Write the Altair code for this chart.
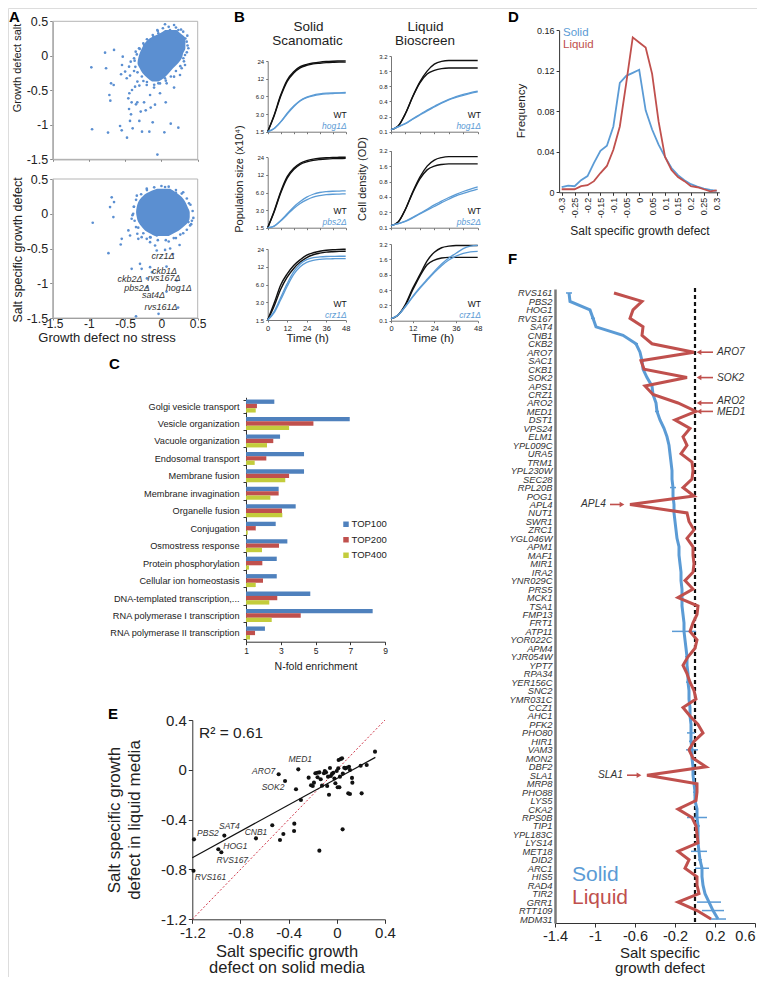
import altair as alt
import pandas as pd

FONT = "Liberation Sans"
W, H = 749, 969


def G(v):
    # page coordinate -> chart group coordinate (page has an 8px margin)
    return v - 8


A_BLUE = "#5b8fd1"
BLUE = "#5b9bd5"
RED = "#c0504d"
DARK = "#222222"

# ---------------- Panel A data ----------------
# dense core of the cloud: horizontal extents of the solid blob, row by row
A1_BLOB_Y = [0.374, 0.326, 0.254, 0.181, 0.109, 0.036, -0.036, -0.109, -0.181, -0.254, -0.326, -0.374]
A1_BLOB_XMIN = [0.05, -0.02, -0.16, -0.23, -0.27, -0.30, -0.32, -0.33, -0.30, -0.26, -0.19, -0.13]
A1_BLOB_XMAX = [0.21, 0.26, 0.33, 0.33, 0.33, 0.30, 0.28, 0.23, 0.16, 0.10, 0.03, -0.04]
A1_PTS = [(-0.967, -0.167), (-0.778, 0.046), (-0.654, 0.085), (-0.764, -0.181), (-0.534, -0.012),
          (-0.544, -0.133), (-0.557, -0.268), (-0.695, -0.399), (-0.659, -0.423), (-0.718, -0.568),
          (-0.705, -0.650), (-0.957, -1.065), (-0.737, -1.113), (-0.571, -1.017), (-0.548, -1.080),
          (-0.475, -1.186), (-0.397, -1.051), (-0.434, -0.944), (-0.305, -0.944), (-0.268, -1.099),
          (-0.167, -1.099), (-0.121, -0.964), (-0.056, -1.432), (0.040, -1.109), (0.128, -0.983),
          (0.233, -1.041), (-0.443, -0.543), (-0.457, -0.616), (-0.411, -0.674), (-0.333, -0.674),
          (-0.351, -0.703), (-0.420, -0.848), (-0.447, -0.771), (-0.286, -0.809), (-0.217, -0.790),
          (-0.148, -0.751), (-0.089, -0.708), (-0.240, -0.674), (-0.157, -0.568), (0.059, -0.674),
          (-0.020, -0.543), (0.174, -0.461), (-0.406, -0.495), (-0.364, -0.447), (-0.305, -0.432),
          (-0.203, -0.423), (-0.102, -0.461), (-0.479, -0.326), (-0.433, -0.287), (-0.378, -0.220),
          (-0.332, -0.374), (-0.249, -0.365), (-0.043, -0.399), (0.072, -0.399), (0.049, -0.326),
          (0.174, -0.302), (0.256, -0.278), (0.279, -0.181), (0.325, -0.133), (0.348, 0.205),
          (0.357, 0.292), (0.233, 0.374), (0.174, 0.447), (0.049, 0.457), (-0.057, 0.374),
          (-0.043, 0.326), (-0.171, 0.205), (-0.240, 0.157), (-0.309, 0.109), (-0.355, 0.060),
          (-0.378, -0.036), (-0.424, -0.085), (-0.447, -0.157), (-0.501, -0.229), (0.371, 0.109),
          (0.325, 0.012), (0.302, -0.036), (0.210, 0.254), (0.118, 0.374), (-0.111, 0.278),
          (0.30, 0.35), (0.33, 0.25), (0.36, 0.15), (0.35, 0.05), (0.31, -0.08), (0.26, -0.15),
          (0.20, -0.22), (0.13, -0.30), (0.06, -0.36), (-0.02, -0.40), (-0.10, -0.42), (-0.20, -0.38),
          (-0.27, -0.30), (-0.33, -0.24), (-0.36, -0.16), (-0.37, -0.07), (-0.34, 0.02), (-0.30, 0.10),
          (-0.25, 0.18), (-0.20, 0.24), (-0.12, 0.30), (-0.05, 0.36), (0.02, 0.40), (0.10, 0.42),
          (0.20, 0.41), (0.27, 0.38)]

A2_BLOB_Y = [0.36, 0.30, 0.24, 0.17, 0.10, 0.02, -0.05, -0.12, -0.19, -0.26, -0.32]
A2_BLOB_XMIN = [-0.06, -0.20, -0.27, -0.32, -0.34, -0.35, -0.34, -0.32, -0.27, -0.20, -0.09]
A2_BLOB_XMAX = [0.12, 0.21, 0.28, 0.33, 0.36, 0.39, 0.39, 0.37, 0.30, 0.21, 0.10]
A2_PTS = [(-0.948, -0.13), (-0.686, 0.236), (-0.654, 0.168), (-0.709, 0.096), (-0.663, -0.048),
          (-0.731, -0.567), (-0.562, -0.442), (-0.548, -0.361), (-0.456, -0.240), (-0.433, -0.313),
          (-0.411, -0.072), (-0.351, -0.192), (-0.333, -0.288), (-0.319, -0.361), (-0.273, -0.337),
          (-0.203, -0.361), (-0.157, -0.337), (-0.065, -0.313), (-0.157, -0.409), (-0.088, -0.457),
          (-0.065, -0.529), (-0.411, -0.793), (-0.296, -0.721), (-0.273, -0.793), (-0.157, -0.769),
          (-0.351, -1.476), (-0.04, -1.44), (0.395, -0.168), (0.372, -0.12), (0.05, 0.385),
          (-0.203, 0.361), (-0.34, 0.26), (0.3, 0.31), (0.2, 0.3), (0.38, 0.15), (0.42, -0.1),
          (0.3, -0.28), (0.2, -0.35), (0.1, -0.4), (-0.38, 0.1), (-0.4, -0.02), (0.12, -0.5),
          (0.25, -0.45), (0.16, -0.58),
          (0.0, 0.40), (0.10, 0.39), (0.20, 0.34), (0.28, 0.29), (0.35, 0.22), (0.40, 0.13),
          (0.43, 0.04), (0.44, -0.06), (0.41, -0.15), (0.35, -0.23), (0.26, -0.30), (0.17, -0.35),
          (0.06, -0.38), (-0.05, -0.38), (-0.15, -0.34), (-0.25, -0.28), (-0.32, -0.20),
          (-0.37, -0.10), (-0.39, 0.0), (-0.38, 0.10), (-0.35, 0.20), (-0.28, 0.28), (-0.20, 0.34),
          (-0.10, 0.38)]
A2_NAMED = ["crz1Δ", "ckb1Δ", "ckb2Δ", "rvs167Δ", "hog1Δ", "pbs2Δ", "sat4Δ", "rvs161Δ"]
A2_NAMED_PTS = [(0.05, -0.52), (0.07, -0.76), (-0.2, -0.93), (-0.13, -0.84), (0.21, -0.96),
                (-0.2, -1.06), (0.07, -1.12), (0.23, -1.35)]
A2_LABEL_OFFSETS = {"crz1Δ": (-2, 6), "ckb1Δ": (-2, 4), "ckb2Δ": (-17, 1), "rvs167Δ": (12, 6),
                    "hog1Δ": (2, 8), "pbs2Δ": (-10, 1), "sat4Δ": (-13, 3), "rvs161Δ": (-17, -1)}

# ---------------- Panel B data ----------------
T = [0, 4, 8, 12, 16, 20, 24, 28, 32, 36, 40, 44, 48]
HOG1_SOLID_WT = [[1.5, 2.9, 6.3, 11.4, 15.8, 19.2, 21.0, 22.2, 23.0, 23.5, 23.8, 24.0, 24.1],
                 [1.5, 2.8, 6.0, 10.8, 15.0, 18.4, 20.2, 21.4, 22.0, 22.5, 22.8, 23.0, 23.0]]
HOG1_SOLID_MUT = [[1.5, 1.7, 2.2, 3.1, 4.1, 5.1, 5.8, 6.3, 6.6, 6.8, 6.9, 6.9, 7.0],
                  [1.5, 1.7, 2.2, 3.0, 4.0, 5.0, 5.7, 6.1, 6.4, 6.6, 6.7, 6.8, 6.8]]
HOG1_LIQ_WT = [[0.11, 0.13, 0.23, 0.50, 0.98, 1.6, 2.2, 2.5, 2.6, 2.6, 2.6, 2.6, 2.6],
               [0.11, 0.13, 0.23, 0.49, 0.93, 1.4, 1.65, 1.8, 1.85, 1.85, 1.85, 1.85, 1.85]]
HOG1_LIQ_MUT = [[0.11, 0.126, 0.146, 0.18, 0.22, 0.27, 0.32, 0.38, 0.44, 0.50, 0.55, 0.60, 0.64],
                [0.11, 0.125, 0.144, 0.177, 0.215, 0.26, 0.31, 0.37, 0.43, 0.48, 0.53, 0.58, 0.62]]
PBS2_SOLID_WT = [[1.5, 2.9, 6.2, 11.2, 15.6, 19.0, 21.0, 22.3, 23.1, 23.6, 23.9, 24.0, 24.1],
                 [1.5, 2.8, 5.9, 10.6, 14.8, 18.2, 20.1, 21.3, 22.0, 22.5, 22.8, 22.9, 23.0]]
PBS2_SOLID_MUT = [[1.5, 1.6, 2.0, 2.6, 3.4, 4.2, 5.0, 5.6, 6.0, 6.2, 6.3, 6.35, 6.4],
                  [1.5, 1.6, 1.95, 2.5, 3.2, 3.9, 4.5, 5.0, 5.3, 5.5, 5.6, 5.65, 5.7]]
PBS2_LIQ_WT = [[0.11, 0.13, 0.23, 0.50, 0.98, 1.6, 2.1, 2.35, 2.45, 2.45, 2.45, 2.45, 2.45],
               [0.11, 0.13, 0.23, 0.48, 0.90, 1.35, 1.6, 1.72, 1.77, 1.77, 1.77, 1.77, 1.77]]
PBS2_LIQ_MUT = [[0.11, 0.12, 0.135, 0.16, 0.19, 0.23, 0.28, 0.33, 0.39, 0.45, 0.51, 0.57, 0.63],
                [0.11, 0.12, 0.133, 0.155, 0.185, 0.22, 0.26, 0.31, 0.36, 0.42, 0.47, 0.52, 0.57]]
CRZ1_SOLID_WT = [[1.5, 2.9, 5.9, 9.1, 12.6, 15.8, 18.9, 20.7, 22.0, 22.8, 23.3, 23.6, 23.8],
                 [1.5, 2.6, 5.0, 8.0, 11.2, 14.4, 17.2, 19.2, 20.4, 21.2, 21.6, 21.9, 22.0]]
CRZ1_SOLID_MUT = [[1.5, 2.1, 3.6, 6.2, 9.9, 13.4, 15.8, 17.1, 17.6, 17.9, 18.0, 18.1, 18.1],
                  [1.5, 2.0, 3.3, 5.6, 8.9, 12.0, 14.2, 15.4, 16.0, 16.3, 16.4, 16.5, 16.5]]
CRZ1_LIQ_WT = [[0.11, 0.13, 0.21, 0.43, 0.8, 1.5, 2.2, 2.7, 2.9, 3.0, 3.0, 3.0, 3.0],
               [0.11, 0.13, 0.2, 0.4, 0.75, 1.25, 1.55, 1.7, 1.75, 1.75, 1.75, 1.75, 1.75]]
CRZ1_LIQ_MUT = [[0.11, 0.13, 0.19, 0.3, 0.45, 0.65, 0.93, 1.3, 1.7, 2.1, 2.6, 2.9, 3.0],
                [0.11, 0.13, 0.19, 0.29, 0.43, 0.62, 0.88, 1.2, 1.55, 1.85, 2.1, 2.25, 2.3]]
B_MUTANTS = ["hog1Δ", "pbs2Δ", "crz1Δ"]

# ---------------- Panel C data ----------------
C_CATS = ["Golgi vesicle transport", "Vesicle organization", "Vacuole organization",
          "Endosomal transport", "Membrane fusion", "Membrane invagination", "Organelle fusion",
          "Conjugation", "Osmostress response", "Protein phosphorylation",
          "Cellular ion homeostasis", "DNA-templated transcription,...",
          "RNA polymerase I transcription", "RNA polymerase II transcription"]
C_SERIES = ["TOP100", "TOP200", "TOP400"]
C_TOP100 = [2.63, 6.97, 2.96, 4.34, 4.34, 2.88, 3.86, 2.71, 3.38, 2.77, 2.77, 4.70, 8.29, 2.09]
C_TOP200 = [1.63, 4.88, 2.57, 2.17, 3.48, 2.88, 3.07, 1.56, 2.90, 1.94, 1.98, 2.80, 4.15, 1.52]
C_TOP400 = [1.56, 3.48, 2.21, 1.50, 3.26, 2.40, 3.09, 1.10, 1.92, 1.17, 1.56, 2.34, 2.48, 1.23]
C_COLORS = ["#4f81bd", "#c0504d", "#c3cc3c"]

# ---------------- Panel D data ----------------
D_BINS = [-0.3, -0.275, -0.25, -0.225, -0.2, -0.175, -0.15, -0.125, -0.1, -0.075, -0.05, -0.025, 0.0,
          0.025, 0.05, 0.075, 0.1, 0.125, 0.15, 0.175, 0.2, 0.225, 0.25, 0.275, 0.3]
D_SOLID = [0.005, 0.0066, 0.006, 0.012, 0.016, 0.029, 0.041, 0.046, 0.065, 0.108, 0.115, 0.118, 0.121,
           0.081, 0.062, 0.047, 0.035, 0.024, 0.017, 0.012, 0.008, 0.0056, 0.0036, 0.0023, 0.0013]
D_LIQUID = [0.003, 0.003, 0.003, 0.006, 0.007, 0.011, 0.019, 0.026, 0.042, 0.065, 0.108, 0.153, 0.148,
            0.143, 0.117, 0.07, 0.035, 0.022, 0.015, 0.011, 0.006, 0.005, 0.003, 0.001, 0.002]

# ---------------- Panel E data ----------------
E_NAMED = ["RVS161", "PBS2", "SAT4", "HOG1", "RVS167", "CNB1", "MED1", "ARO7", "SOK2"]
E_NAMED_PTS = [(-1.19, -0.81), (-1.186, -0.558), (-0.934, -0.528), (-0.984, -0.638), (-0.959, -0.662),
               (-0.671, -0.55), (-0.32, 0.004), (-0.483, -0.036), (-0.43, -0.09)]
E_LABEL_OFFSETS = {"RVS161": (17, 6), "PBS2": (14, -6), "SAT4": (5, -10), "HOG1": (17, -3),
                   "RVS167": (11, 8), "CNB1": (0, -6), "MED1": (2, -10), "ARO7": (-15, -3),
                   "SOK2": (-12, 6)}
E_PTS = [(-0.536, -0.445), (-0.472, -0.563), (-0.444, -0.515), (-0.353, -0.432), (-0.355, -0.491),
         (-0.145, -0.649), (0.048, -0.478), (-0.298, -0.242), (-0.339, -0.156), (-0.234, -0.063),
         (-0.214, -0.124), (-0.19, -0.103), (-0.178, -0.028), (-0.162, -0.023), (-0.145, -0.02),
         (-0.134, -0.076), (-0.123, -0.127), (-0.107, -0.028), (-0.09, -0.02), (-0.073, -0.055),
         (-0.065, -0.2), (-0.057, 0.015), (-0.04, -0.033), (-0.029, -0.023), (-0.012, -0.108),
         (-0.001, -0.009), (0.012, 0.012), (0.015, 0.079), (0.032, 0.087), (0.043, 0.092),
         (0.007, -0.14), (0.021, -0.14), (0.026, -0.055), (0.062, 0.017), (0.071, 0.012),
         (0.082, 0.017), (0.101, 0.025), (0.095, -0.189), (0.109, -0.194), (0.109, -0.001),
         (0.126, -0.065), (0.129, -0.103), (0.206, -0.189), (0.198, 0.033), (0.248, 0.039),
         (0.317, 0.146), (-0.16, -0.06), (-0.05, -0.05), (-0.02, -0.07), (0.05, -0.03),
         (-0.1, -0.01), (-0.2, -0.13), (-0.08, -0.13)]
E_DIAG = [-1.2, 0.4]

# ---------------- Panel F data ----------------
F_GENES = ["RVS161", "PBS2", "HOG1", "RVS167", "SAT4", "CNB1", "CKB2", "ARO7", "SAC1", "CKB1", "SOK2",
           "APS1", "CRZ1", "ARO2", "MED1", "DST1", "VPS24", "ELM1", "YPL009C", "URA5", "TRM1",
           "YPL230W", "SEC28", "RPL20B", "POG1", "APL4", "NUT1", "SWR1", "ZRC1", "YGL046W", "APM1",
           "MAF1", "MIR1", "IRA2", "YNR029C", "PRS5", "MCK1", "TSA1", "FMP13", "FRT1", "ATP11",
           "YOR022C", "APM4", "YJR054W", "YPT7", "RPA34", "YER156C", "SNC2", "YMR031C", "CCZ1",
           "AHC1", "PFK2", "PHO80", "HIR1", "VAM3", "MON2", "DBF2", "SLA1", "MRP8", "PHO88", "LYS5",
           "CKA2", "RPS0B", "TIP1", "YPL183C", "LYS14", "MET18", "DID2", "ARC1", "HIS5", "RAD4",
           "TIR2", "GRR1", "RTT109", "MDM31"]
F_SOLID = [-1.26, -1.25, -1.05, -1.02, -0.99, -0.72, -0.59, -0.55, -0.53, -0.52, -0.48, -0.43, -0.42,
           -0.39, -0.38, -0.35, -0.31, -0.28, -0.26, -0.25, -0.24, -0.23, -0.23, -0.22, -0.22, -0.21,
           -0.21, -0.20, -0.19, -0.18, -0.16, -0.16, -0.15, -0.14, -0.14, -0.13, -0.13, -0.13, -0.12,
           -0.11, -0.11, -0.10, -0.09, -0.08, -0.08, -0.07, -0.07, -0.06, -0.06, -0.05, -0.05, -0.04,
           -0.04, -0.04, -0.03, -0.03, -0.02, -0.02, -0.01, 0.00, 0.00, 0.02, 0.02, 0.03, 0.03, 0.03,
           0.04, 0.05, 0.07, 0.07, 0.08, 0.10, 0.14, 0.18, 0.23]
F_LIQUID = [-0.81, -0.53, -0.62, -0.65, -0.52, -0.53, -0.43, -0.01, -0.54, -0.51, -0.08, -0.50, -0.42,
            -0.17, 0.01, -0.20, -0.05, -0.12, -0.08, -0.14, -0.03, -0.02, -0.03, -0.12, -0.01, -0.65,
            -0.08, -0.06, -0.01, -0.08, -0.02, -0.02, -0.01, -0.02, -0.10, -0.02, -0.17, 0.03, 0.02,
            -0.02, -0.05, 0.02, 0.00, -0.07, -0.12, -0.08, -0.05, -0.01, 0.01, -0.12, -0.05, 0.03,
            0.08, -0.01, -0.06, -0.02, 0.11, -0.48, 0.02, 0.02, 0.01, -0.17, -0.03, 0.01, 0.02, 0.03,
            -0.17, -0.06, -0.10, 0.02, 0.02, 0.04, -0.17, 0.02, 0.16]
F_ERR = [0.03, 0.01, 0.01, 0.02, 0.01, 0.01, 0.02, 0.01, 0.01, 0.01, 0.01, 0.01, 0.01, 0.01, 0.02,
         0.01, 0.01, 0.01, 0.01, 0.01, 0.01, 0.01, 0.01, 0.03, 0.01, 0.01, 0.01, 0.01, 0.01, 0.01,
         0.01, 0.01, 0.01, 0.01, 0.01, 0.01, 0.01, 0.01, 0.01, 0.01, 0.12, 0.01, 0.01, 0.02, 0.01,
         0.01, 0.02, 0.01, 0.01, 0.01, 0.01, 0.01, 0.04, 0.02, 0.06, 0.01, 0.01, 0.01, 0.01, 0.02,
         0.01, 0.01, 0.10, 0.02, 0.01, 0.01, 0.08, 0.02, 0.07, 0.01, 0.01, 0.01, 0.12, 0.11, 0.08]
F_ARROW_RIGHT = ["ARO7", "SOK2", "ARO2", "MED1"]
F_ARROW_LEFT = ["APL4", "SLA1"]
F_ARROW_TEXT_DY = {"ARO7": 0, "SOK2": 0, "ARO2": -2, "MED1": 1}


# ---------------- helpers ----------------
def lin(domain, r0, r1, kind="linear"):
    if kind == "log":
        return alt.Scale(type="log", domain=domain, range=[G(r0), G(r1)], nice=False)
    return alt.Scale(type=kind, domain=domain, range=[G(r0), G(r1)], zero=False, nice=False)


NUM = "'' + datum.value"


def xaxis(y_page, values, labels=True, size=12, tick=3, color="#555", expr=NUM, angle=0,
          lcolor=DARK, pad=2, align=None):
    kw = {}
    if align is not None:
        kw["labelAlign"] = align
    return alt.Axis(orient="bottom", offset=G(y_page) - H, values=values, labels=labels,
                    labelExpr=expr, labelFontSize=size, labelFont=FONT, labelColor=lcolor,
                    labelAngle=angle, labelFlush=False, labelOverlap=False, labelPadding=pad,
                    grid=False, title=None, ticks=tick > 0, tickSize=tick, tickColor=color,
                    domainColor=color, domainWidth=1, **kw)


def yaxis(x_page, values, labels=True, size=12, tick=3, color="#555", expr=NUM, lcolor=DARK):
    return alt.Axis(orient="left", offset=-G(x_page), values=values, labels=labels,
                    labelExpr=expr, labelFontSize=size, labelFont=FONT, labelColor=lcolor,
                    labelFlush=False, labelOverlap=False, labelPadding=2,
                    grid=False, title=None, ticks=tick > 0, tickSize=tick, tickColor=color,
                    domainColor=color, domainWidth=1)


def text(s, x, y, size, color=DARK, align="center", baseline="middle", angle=0,
         italic=False, bold=False):
    return alt.Chart(alt.Data(values=[{}])).mark_text(
        text=s, align=align, baseline=baseline, angle=angle, fontSize=size, font=FONT,
        color=color, fontStyle="italic" if italic else "normal",
        fontWeight="bold" if bold else "normal").encode(x=alt.value(G(x)), y=alt.value(G(y)))


def pts_df(pairs, names=None):
    df = pd.DataFrame(pairs, columns=["x", "y"])
    if names is not None:
        df["name"] = names
    return df


L = []

# ---------------- Panel A ----------------
AX0, AX1 = 52.7, 197.7


def scatter_a(blob_y, blob_x0, blob_x1, pts, ytop, ybot, xlabels):
    xs = lin([-1.5, 0.5], AX0, AX1)
    ys = lin([-1.5, 0.5], ybot, ytop)
    frame = alt.Chart(alt.Data(values=[{}])).mark_rect(
        fillOpacity=0, stroke="#b5b5b5", strokeWidth=1).encode(
        x=alt.value(G(AX0)), x2=alt.value(G(AX1)), y=alt.value(G(ytop)), y2=alt.value(G(ybot)))
    blob = pd.DataFrame({"y": blob_y, "x0": blob_x0, "x1": blob_x1})
    blob_l = alt.Chart(blob).mark_area(orient="horizontal", color=A_BLUE, opacity=1,
                                       interpolate="monotone").encode(
        y=alt.Y("y:Q", scale=ys, axis=yaxis(AX0, [0.5, 0, -0.5, -1, -1.5], size=12.5,
                                            color="#8a8a8a")),
        x=alt.X("x0:Q", scale=xs, axis=xaxis(ybot, [-1.5, -1, -0.5, 0, 0.5], labels=xlabels,
                                             size=12, tick=2, pad=-2, color="#8a8a8a")),
        x2="x1:Q")
    pts_l = alt.Chart(pts_df(pts)).mark_circle(size=7, color=A_BLUE, opacity=1).encode(
        x=alt.X("x:Q", scale=xs, axis=None), y=alt.Y("y:Q", scale=ys, axis=None))
    return [frame, blob_l, pts_l], xs, ys


la, _, _ = scatter_a(A1_BLOB_Y, A1_BLOB_XMIN, A1_BLOB_XMAX, A1_PTS, 21.3, 159.3, False)
L += la
la, xs_a2, ys_a2 = scatter_a(A2_BLOB_Y, A2_BLOB_XMIN, A2_BLOB_XMAX, A2_PTS, 179, 318, True)
L += la
named_a2 = pts_df(A2_NAMED_PTS, A2_NAMED)
L.append(alt.Chart(named_a2).mark_circle(size=7, color=A_BLUE, opacity=1).encode(
    x=alt.X("x:Q", scale=xs_a2, axis=None), y=alt.Y("y:Q", scale=ys_a2, axis=None)))
for nm in A2_NAMED:
    dx, dy = A2_LABEL_OFFSETS[nm]
    L.append(alt.Chart(named_a2).transform_filter(alt.datum.name == nm).mark_text(
        fontSize=9, fontStyle="italic", font=FONT, color="#333", dx=dx, dy=dy).encode(
        x=alt.X("x:Q", scale=xs_a2, axis=None), y=alt.Y("y:Q", scale=ys_a2, axis=None),
        text="name:N"))
L.append(text("Growth defect salt", 17.5, 68, 11, angle=270))
L.append(text("Salt specific growth defect", 17.5, 250, 12.5, angle=270))
L.append(text("Growth defect no stress", 107, 338, 13))

# ---------------- Panel B ----------------
SOLID_ROWS = [(61, 131.7), (157.3, 227.7), (249, 320)]
LIQ_ROWS = [(56, 131.7), (150.7, 227.7), (244, 320.7)]


def curves_df(curves):
    rows = []
    for i, c in enumerate(curves):
        for t, v in zip(T, c):
            rows.append({"t": t, "v": v, "rep": i})
    return pd.DataFrame(rows)


def growth(wt, mut, col, row):
    if col == 0:
        x0, x1 = 267.7, 345.7
        dom, yv = [1.5, 24], [1.5, 3, 6, 12, 24]
        expr = "datum.value < 10 ? format(datum.value, '.1f') : '' + datum.value"
        ytop, ybot = SOLID_ROWS[row]
        lab_x = 346.7
    else:
        x0, x1 = 391, 477.7
        dom, yv = [0.1, 3.2], [0.1, 0.2, 0.4, 0.8, 1.6, 3.2]
        expr = NUM
        ytop, ybot = LIQ_ROWS[row]
        lab_x = 481
    xs = lin([0, 48], x0, x1)
    ys = lin(dom, ybot, ytop, kind="log")
    if row == 2:
        xa = xaxis(ybot, [0, 12, 24, 36, 48], size=7.5, tick=2, color="#777")
    else:
        xa = xaxis(ybot, [0, 8, 16, 24, 32, 40, 48], labels=False, tick=2, color="#777")
    ya = yaxis(x0, yv, size=6, tick=2, color="#777", expr=expr)
    out = [
        alt.Chart(curves_df(wt)).mark_line(color="#111", strokeWidth=1.4, interpolate="monotone").encode(
            x=alt.X("t:Q", scale=xs, axis=xa), y=alt.Y("v:Q", scale=ys, axis=ya), detail="rep:N"),
        alt.Chart(curves_df(mut)).mark_line(color=BLUE, strokeWidth=1.3, interpolate="monotone").encode(
            x=alt.X("t:Q", scale=xs, axis=None), y=alt.Y("v:Q", scale=ys, axis=None), detail="rep:N"),
        text("WT", lab_x, ybot - 16.5, 8.5, color="#111", align="right"),
        text(B_MUTANTS[row], lab_x, ybot - 5.5, 8.5, color=BLUE, align="right", italic=True),
    ]
    return out


L += growth(HOG1_SOLID_WT, HOG1_SOLID_MUT, 0, 0)
L += growth(HOG1_LIQ_WT, HOG1_LIQ_MUT, 1, 0)
L += growth(PBS2_SOLID_WT, PBS2_SOLID_MUT, 0, 1)
L += growth(PBS2_LIQ_WT, PBS2_LIQ_MUT, 1, 1)
L += growth(CRZ1_SOLID_WT, CRZ1_SOLID_MUT, 0, 2)
L += growth(CRZ1_LIQ_WT, CRZ1_LIQ_MUT, 1, 2)
L.append(text("Solid", 308.5, 27, 13.5))
L.append(text("Scanomatic", 307.5, 41, 13.5))
L.append(text("Liquid", 425.5, 27, 13.5))
L.append(text("Bioscreen", 425, 41, 13.5))
L.append(text("Population size (x10⁴)", 240, 179, 11, angle=270))
L.append(text("Cell density (OD)", 363, 179, 11, angle=270))
L.append(text("Time (h)", 307.7, 339, 11.5))
L.append(text("Time (h)", 433, 339, 11.5))

# ---------------- Panel C ----------------
c_rows = []
for i, cat in enumerate(C_CATS):
    for s, vals in zip(C_SERIES, [C_TOP100, C_TOP200, C_TOP400]):
        c_rows.append({"cat": cat, "series": s, "value": vals[i]})
c_df = pd.DataFrame(c_rows)
xs_c = lin([1, 9], 246, 385)
ys_c = alt.Scale(type="band", domain=C_CATS, range=[G(397.3), G(641.7)], paddingInner=0.255,
                 paddingOuter=0.1275)
c_yaxis = alt.Axis(orient="left", offset=-G(246), labelFontSize=9.2, labelFont=FONT, labelColor=DARK,
                   labelPadding=4, labelLimit=300, grid=False, title=None, tickBand="extent",
                   tickSize=3, tickColor="#333", domainColor="#333", labelOverlap=False)
L.append(alt.Chart(c_df).mark_bar().encode(
    y=alt.Y("cat:N", sort=C_CATS, scale=ys_c, axis=c_yaxis),
    yOffset=alt.YOffset("series:N", sort=C_SERIES, scale=alt.Scale(domain=C_SERIES)),
    x=alt.X("value:Q", scale=xs_c, axis=xaxis(641.7, [1, 3, 5, 7, 9], size=8.5, tick=3, color="#333")),
    x2=alt.datum(1),
    color=alt.Color("series:N", scale=alt.Scale(domain=C_SERIES, range=C_COLORS), legend=None)))
leg_c = pd.DataFrame({"series": C_SERIES})
ys_leg = alt.Scale(type="point", domain=C_SERIES, range=[G(516.5), G(563)], padding=0.5)
L.append(alt.Chart(leg_c).mark_square(size=30, opacity=1).encode(
    x=alt.value(G(346)), y=alt.Y("series:N", sort=C_SERIES, scale=ys_leg, axis=None),
    color=alt.Color("series:N", scale=alt.Scale(domain=C_SERIES, range=C_COLORS), legend=None)))
L.append(alt.Chart(leg_c).mark_text(align="left", baseline="middle", fontSize=9.5, font=FONT,
                                    color=DARK).encode(
    x=alt.value(G(351.5)), y=alt.Y("series:N", sort=C_SERIES, scale=ys_leg, axis=None),
    text="series:N"))
L.append(text("N-fold enrichment", 316, 667, 10.5))

# ---------------- Panel D ----------------
d_df = pd.DataFrame({"bin": D_BINS, "solid": D_SOLID, "liquid": D_LIQUID})
xs_d = lin([-0.31, 0.31], 559.1, 719.3)
ys_d = lin([0, 0.16], 192.3, 30.3)
d_ticks = [-0.3, -0.25, -0.2, -0.15, -0.1, -0.05, 0, 0.05, 0.1, 0.15, 0.2, 0.25, 0.3]
L.append(alt.Chart(d_df).mark_line(color=BLUE, strokeWidth=1.8).encode(
    x=alt.X("bin:Q", scale=xs_d, axis=xaxis(192.3, d_ticks, size=9, tick=3, color="#333", angle=-90)),
    y=alt.Y("solid:Q", scale=ys_d, axis=yaxis(559.1, [0, 0.04, 0.08, 0.12, 0.16], size=9, tick=3,
                                              color="#333"))))
L.append(alt.Chart(d_df).mark_line(color=RED, strokeWidth=1.8).encode(
    x=alt.X("bin:Q", scale=xs_d, axis=None), y=alt.Y("liquid:Q", scale=ys_d, axis=None)))
L.append(text("Frequency", 522, 111, 11.5, angle=270))
L.append(text("Salt specific growth defect", 640, 231, 12))
L.append(text("Solid", 563, 33, 11.5, color=BLUE, align="left"))
L.append(text("Liquid", 563, 45, 11.5, color=RED, align="left"))

# ---------------- Panel E ----------------
e_all = pts_df(E_PTS + E_NAMED_PTS)
e_named = pts_df(E_NAMED_PTS, E_NAMED)
xs_e = lin([-1.2, 0.4], 192.3, 385)
ys_e = lin([-1.2, 0.4], 919.3, 720)
e_ticks = [-1.2, -0.8, -0.4, 0, 0.4]
L.append(alt.Chart(pd.DataFrame({"x": E_DIAG, "y": E_DIAG})).mark_line(
    color="#d0374a", strokeWidth=1, strokeDash=[2, 2]).encode(
    x=alt.X("x:Q", scale=xs_e, axis=xaxis(919.3, e_ticks, size=15, tick=4, color="#333")),
    y=alt.Y("y:Q", scale=ys_e, axis=yaxis(192.3, e_ticks, size=15, tick=4, color="#333"))))
L.append(alt.Chart(e_all).transform_regression("x", "y", extent=[-1.2, 0.32]).mark_line(
    color="#111", strokeWidth=1.2).encode(
    x=alt.X("x:Q", scale=xs_e, axis=None), y=alt.Y("y:Q", scale=ys_e, axis=None)))
L.append(alt.Chart(e_all).mark_circle(size=17, color="#111", opacity=1).encode(
    x=alt.X("x:Q", scale=xs_e, axis=None), y=alt.Y("y:Q", scale=ys_e, axis=None)))
for nm in E_NAMED:
    dx, dy = E_LABEL_OFFSETS[nm]
    L.append(alt.Chart(e_named).transform_filter(alt.datum.name == nm).mark_text(
        fontSize=8.5, fontStyle="italic", font=FONT, color="#333", dx=dx, dy=dy).encode(
        x=alt.X("x:Q", scale=xs_e, axis=None), y=alt.Y("y:Q", scale=ys_e, axis=None),
        text="name:N"))
L.append(text("R² = 0.61", 199, 733, 15.5, align="left"))
L.append(text("Salt specific growth", 115, 820, 17, angle=270))
L.append(text("defect in liquid media", 135, 820, 17, angle=270))
L.append(text("Salt specific growth", 287, 952, 16.5))
L.append(text("defect on solid media", 287, 968, 16.5))

# ---------------- Panel F ----------------
f_df = pd.DataFrame({"gene": F_GENES, "solid": F_SOLID, "liquid": F_LIQUID, "err": F_ERR,
                     "idx": list(range(len(F_GENES)))})
f_df["lo"] = f_df["solid"] - f_df["err"]
f_df["hi"] = f_df["solid"] + f_df["err"]
xs_f = lin([-1.4, 0.6], 555, 755)
ys_f = alt.Scale(type="point", domain=F_GENES, range=[G(289), G(923)], padding=0.47)
f_yaxis = alt.Axis(orient="left", offset=-G(555), labelFontSize=9.3, labelFontStyle="italic",
                   labelFont=FONT, labelColor="#333", labelPadding=3, grid=False, title=None,
                   ticks=False, domainColor="#7a7a7a", domainWidth=2.5, labelOverlap=False)
f_label_align = {"condition": {"test": "datum.value > 0.5", "value": "right"}, "value": "center"}
DASH_X = 0
L.append(alt.Chart(alt.Data(values=[{}])).mark_rule(color="#111", strokeWidth=2.2,
                                                     strokeDash=[4, 3]).encode(
    x=alt.XDatum(DASH_X, type="quantitative", scale=xs_f,
                 axis=xaxis(923, [-1.4, -1, -0.6, -0.2, 0.2, 0.6], size=14.5, tick=4, color="#333",
                            align=f_label_align)),
    y=alt.value(G(288)), y2=alt.value(G(923))))
L.append(alt.Chart(f_df).mark_rule(color=BLUE, strokeWidth=1.5).encode(
    x=alt.X("lo:Q", scale=xs_f, axis=None), x2="hi:Q",
    y=alt.Y("gene:N", sort=F_GENES, scale=ys_f, axis=f_yaxis)))
L.append(alt.Chart(f_df).mark_line(color=BLUE, strokeWidth=3).encode(
    x=alt.X("solid:Q", scale=xs_f, axis=None),
    y=alt.Y("gene:N", sort=F_GENES, scale=ys_f, axis=None), order="idx:Q"))
L.append(alt.Chart(f_df).mark_line(color=RED, strokeWidth=3).encode(
    x=alt.X("liquid:Q", scale=xs_f, axis=None),
    y=alt.Y("gene:N", sort=F_GENES, scale=ys_f, axis=None), order="idx:Q"))

arr_r = pd.DataFrame({"gene": F_ARROW_RIGHT})
arr_r["head"] = DASH_X + 0.04
arr_r["tail"] = DASH_X + 0.18
arr_r["lab"] = DASH_X + 0.22
arr_l = f_df[f_df["gene"].isin(F_ARROW_LEFT)][["gene", "liquid"]].copy()
arr_l["head"] = arr_l["liquid"] - 0.08
arr_l["tail"] = arr_l["liquid"] - 0.2
arr_l["lab"] = arr_l["liquid"] - 0.24
for adf, shape in [(arr_r, "triangle-left"), (arr_l, "triangle-right")]:
    L.append(alt.Chart(adf).mark_rule(color=RED, strokeWidth=1.6).encode(
        x=alt.X("head:Q", scale=xs_f, axis=None), x2="tail:Q",
        y=alt.Y("gene:N", sort=F_GENES, scale=ys_f, axis=None)))
    L.append(alt.Chart(adf).mark_point(shape=shape, filled=True, size=30, color=RED, opacity=1).encode(
        x=alt.X("head:Q", scale=xs_f, axis=None),
        y=alt.Y("gene:N", sort=F_GENES, scale=ys_f, axis=None)))
for gname in F_ARROW_RIGHT:
    L.append(alt.Chart(arr_r).transform_filter(alt.datum.gene == gname).mark_text(
        align="left", baseline="middle", fontSize=10.2, fontStyle="italic", font=FONT, color="#333",
        dy=F_ARROW_TEXT_DY[gname]).encode(
        x=alt.X("lab:Q", scale=xs_f, axis=None),
        y=alt.Y("gene:N", sort=F_GENES, scale=ys_f, axis=None), text="gene:N"))
L.append(alt.Chart(arr_l).mark_text(align="right", baseline="middle", fontSize=10.2, fontStyle="italic",
                                    font=FONT, color="#333").encode(
    x=alt.X("lab:Q", scale=xs_f, axis=None),
    y=alt.Y("gene:N", sort=F_GENES, scale=ys_f, axis=None), text="gene:N"))
L.append(text("Solid", 572, 875, 21, color=BLUE, align="left"))
L.append(text("Liquid", 572, 898, 21, color=RED, align="left"))
L.append(text("Salt specific", 660, 953, 15))
L.append(text("growth defect", 660, 968, 15))

# ---------------- panel letters ----------------
for letter, x, y in [("A", 9, 10), ("B", 234, 10), ("C", 109, 357), ("D", 508, 10), ("E", 108, 707),
                     ("F", 508, 252)]:
    L.append(text(letter, x, y, 15, color="#000", align="left", baseline="top", bold=True))

chart = alt.layer(*L).resolve_scale(
    x="independent", y="independent", color="independent"
).resolve_axis(
    x="independent", y="independent"
).properties(
    width=W, height=H, autosize=alt.AutoSizeParams(type="none"), padding=0
).configure_view(stroke=None).configure(font=FONT)

chart.save("out.html", embed_options={"renderer": "svg", "actions": False})
